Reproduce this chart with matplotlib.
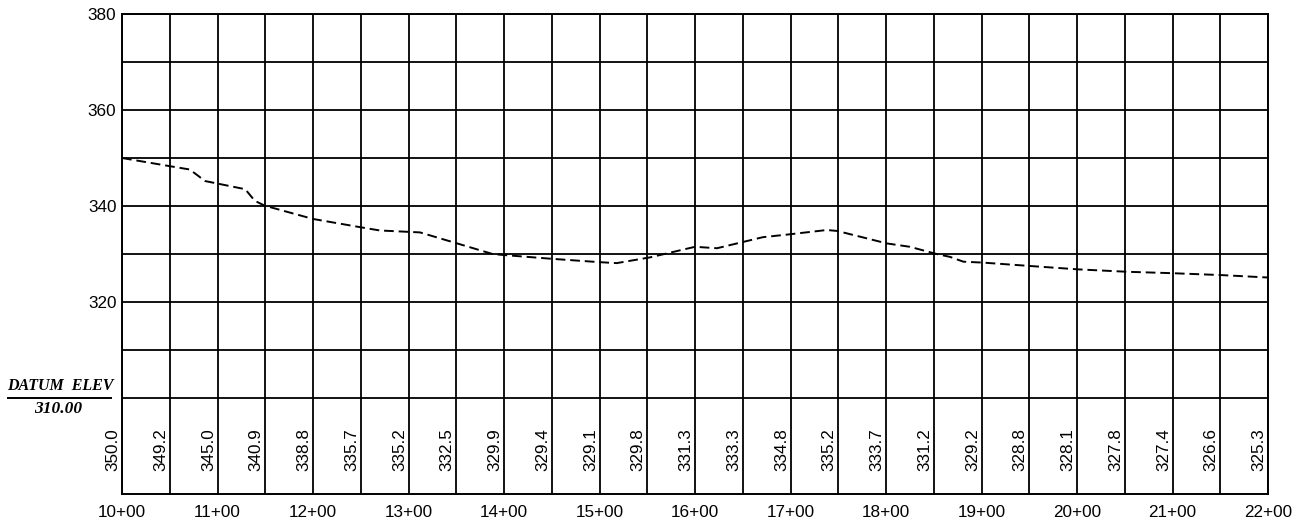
# Perfil de terreno con estaciones y elevaciones
import matplotlib.pyplot as plt

# Estaciones de las etiquetas (cada 50 pies) y elevaciones escritas abajo
estaciones = list(range(1000, 2201, 50))
elevaciones = [350.0, 349.2, 345.0, 340.9, 338.8, 335.7, 335.2, 332.5, 329.9,
               329.4, 329.1, 329.8, 331.3, 333.3, 334.8, 335.2, 333.7, 331.2,
               329.2, 328.8, 328.1, 327.8, 327.4, 326.6, 325.3]

# Puntos del perfil (linea discontinua)
perfil_x = [1000, 1050, 1071, 1087, 1129, 1139, 1149, 1200, 1249, 1270, 1312,
            1351, 1388, 1399, 1450, 1500, 1518, 1553, 1600, 1623, 1671, 1699,
            1738, 1749, 1801, 1825, 1853, 1867, 1881, 1902, 1951, 2001, 2052,
            2100, 2152, 2200]
perfil_y = [350.0, 348.3, 347.6, 345.2, 343.5, 341.1, 340.1, 337.3, 335.6,
            334.9, 334.5, 332.2, 330.0, 329.8, 329.0, 328.3, 328.1, 329.3,
            331.5, 331.2, 333.5, 334.1, 335.0, 334.8, 332.2, 331.5, 330.0,
            329.4, 328.4, 328.2, 327.5, 326.8, 326.3, 326.0, 325.6, 325.1]

marcas_x = list(range(1000, 2201, 100))
etiquetas_x = ['%d+00' % (s // 100) for s in marcas_x]
marcas_y = [320, 340, 360, 380]
lineas_h = list(range(300, 381, 10))

plt.rcParams['font.family'] = ['Liberation Sans', 'DejaVu Sans']

fig = plt.figure(figsize=(13.06, 5.23), dpi=100)
ax = fig.add_axes([122 / 1306, 29 / 523, 1146 / 1306, 480 / 523])
ax.set_xlim(1000, 2200)
ax.set_ylim(280, 380)

# Cuadricula
for s in estaciones:
    ax.axvline(s, color='black', lw=1.3, zorder=1)
for h in lineas_h:
    ax.axhline(h, color='black', lw=1.3, zorder=1)

# Perfil
linea, = ax.plot(perfil_x, perfil_y, color='black', lw=1.4, zorder=3)
linea.set_dashes([5, 2.5])

# Elevaciones escritas en vertical
for s, e in zip(estaciones, elevaciones):
    ax.text(s - 1.5, 289.2, '%.1f' % e, rotation=90, ha='right', va='center',
            fontsize=12.3, clip_on=False)

for sp in ax.spines.values():
    sp.set_linewidth(1.4)

ax.set_xticks(marcas_x)
ax.set_xticklabels(etiquetas_x)
ax.set_yticks(marcas_y)
ax.tick_params(length=0, labelsize=12.3)
ax.tick_params(axis='x', pad=8)
ax.tick_params(axis='y', pad=4)

# Datum
fig.text(60 / 1306, 1 - 386 / 523, 'DATUM  ELEV', ha='center', va='center',
         family='Liberation Serif', style='italic', weight='bold', fontsize=11.5)
fig.add_artist(plt.Line2D([8 / 1306, 111 / 1306], [1 - 398 / 523, 1 - 398 / 523],
                          color='black', lw=1.4))
fig.text(58 / 1306, 1 - 409 / 523, '310.00', ha='center', va='center',
         family='Liberation Serif', style='italic', weight='bold', fontsize=12.5)

plt.savefig('out.png', dpi=100)
